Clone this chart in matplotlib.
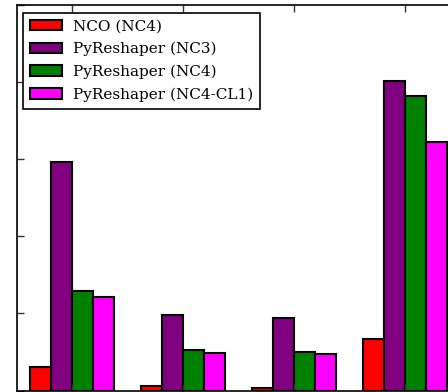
import numpy as np
import matplotlib
matplotlib.use('Agg')
import matplotlib.pyplot as plt

matplotlib.rcParams['font.family'] = ['DejaVu Serif']

# Bar heights (units of one y tick step)
groups = [0, 1, 2, 3]
series_names = ['NCO (NC4)', 'PyReshaper (NC3)', 'PyReshaper (NC4)',
                'PyReshaper (NC4-CL1)']
nco_nc4 = [0.31, 0.061, 0.026, 0.666]
pyr_nc3 = [2.96, 0.983, 0.944, 4.02]
pyr_nc4 = [1.295, 0.528, 0.497, 3.82]
pyr_nc4_cl1 = [1.208, 0.49, 0.468, 3.23]
colors = ['red', 'purple', 'green', 'magenta']

fig = plt.figure(figsize=(4.48, 3.92), dpi=100)
# the reference is a crop: the axes run past the right edge of the image
ax = fig.add_axes([16.5 / 448, 1.5 / 392, 444 / 448, 385.2 / 392])

width = 0.1875
x = np.array(groups, dtype=float)
all_series = [nco_nc4, pyr_nc3, pyr_nc4, pyr_nc4_cl1]
for i, (vals, name, c) in enumerate(zip(all_series, series_names, colors)):
    ax.bar(x + (i - 1.5) * width, vals, width,
           color=c, edgecolor='black', linewidth=1.5, label=name)

ax.set_xlim(-0.5, 3.5)
ax.set_ylim(0, 5)
ax.set_xticks(groups)
ax.set_yticks([0, 1, 2, 3, 4, 5])
ax.tick_params(direction='in', length=5, width=1, color='#333333',
               top=True, right=True, labelbottom=False, labelleft=False)
for s in ax.spines.values():
    s.set_linewidth(1.2)

leg = ax.legend(loc='upper left', bbox_to_anchor=(0.0153, 0.981),
                borderaxespad=0, fontsize=11, fancybox=False,
                framealpha=1, edgecolor='black', handlelength=2.1,
                handleheight=0.7, labelspacing=0.55, borderpad=0.45,
                handletextpad=0.7)
leg.get_frame().set_linewidth(1.2)

fig.savefig('out.png', dpi=100)
